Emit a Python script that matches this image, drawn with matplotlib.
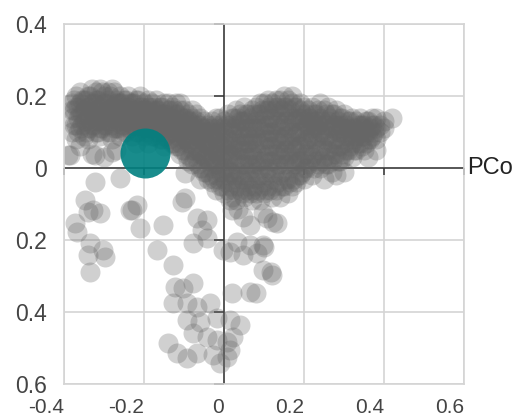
import matplotlib
matplotlib.use("Agg")
import matplotlib.pyplot as plt
from matplotlib.ticker import FixedLocator, FuncFormatter

plt.rcParams['font.family'] = ['Liberation Sans', 'DejaVu Sans']

# ---- data ----
x_ticks = [-0.4, -0.2, 0.0, 0.2, 0.4, 0.6]
y_ticks = [0.4, 0.2, 0.0, -0.2, -0.4, -0.6]
axis_title = "PCo1"

# dense band of samples, grouped by PCo1 value -> PCo2 values
band_columns = {
    -0.38: [0.18, 0.14, 0.10, 0.16],
    -0.37: [0.20, 0.12, 0.17, 0.08],
    -0.36: [0.21, 0.15, 0.11, 0.18, 0.06],
    -0.35: [0.19, 0.13, 0.16, 0.09],
    -0.34: [0.20, 0.14, 0.11, 0.17, 0.08],
    -0.33: [0.22, 0.18, 0.12, 0.15, 0.04],
    -0.32: [0.19, 0.13, 0.16, 0.10, 0.21],
    -0.31: [0.22, 0.17, 0.14, 0.09, 0.11],
    -0.30: [0.20, 0.15, 0.12, 0.18, 0.03],
    -0.29: [0.21, 0.16, 0.10, 0.13, 0.19],
    -0.28: [0.22, 0.14, 0.17, 0.08, 0.12, 0.044],
    -0.27: [0.19, 0.15, 0.11, 0.18, 0.05],
    -0.26: [0.20, 0.13, 0.16, 0.09, 0.18],
    -0.25: [0.17, 0.12, 0.19, 0.14, 0.10],
    -0.24: [0.20, 0.15, 0.11, 0.17, 0.13],
    -0.23: [0.18, 0.14, 0.09, 0.16, 0.12],
    -0.22: [0.19, 0.13, 0.16, 0.10, 0.07],
    -0.21: [0.20, 0.15, 0.12, 0.17],
    -0.20: [0.18, 0.13, 0.16, 0.09, 0.11],
    -0.19: [0.19, 0.14, 0.11, 0.17, 0.07],
    -0.18: [0.16, 0.12, 0.18, 0.09],
    -0.17: [0.19, 0.14, 0.10, 0.16, 0.12],
    -0.16: [0.17, 0.13, 0.08, 0.15, 0.11],
    -0.15: [0.18, 0.12, 0.15, 0.09, 0.06],
    -0.14: [0.16, 0.11, 0.13, 0.08, 0.18],
    -0.13: [0.17, 0.12, 0.14, 0.07, 0.10],
    -0.12: [0.18, 0.11, 0.15, 0.06, 0.13],
    -0.11: [0.16, 0.10, 0.13, 0.07, 0.18, 0.04],
    -0.10: [0.14, 0.09, 0.12, 0.05, 0.16],
    -0.09: [0.15, 0.10, 0.13, 0.07, 0.02],
    -0.08: [0.14, 0.08, 0.11, 0.05, 0.16, 0.01],
    -0.07: [0.13, 0.09, 0.11, 0.06, 0.03, 0.15],
    -0.06: [0.12, 0.08, 0.10, 0.04, 0.00, 0.14, -0.03],
    -0.05: [0.13, 0.07, 0.10, 0.03, -0.01, 0.05],
    -0.04: [0.12, 0.08, 0.05, 0.02, -0.03, 0.10],
    -0.03: [0.13, 0.09, 0.06, 0.03, 0.00, -0.04, 0.11],
    -0.02: [0.14, 0.08, 0.05, 0.01, -0.02, -0.06, 0.11],
    -0.01: [0.12, 0.09, 0.06, 0.03, -0.01, -0.05, 0.14],
    0.00: [0.13, 0.10, 0.07, 0.04, 0.00, -0.03, -0.07],
    0.01: [0.15, 0.11, 0.08, 0.05, 0.02, -0.02, -0.06],
    0.02: [0.14, 0.10, 0.06, 0.03, -0.01, -0.04, -0.08],
    0.03: [0.16, 0.12, 0.08, 0.05, 0.01, -0.03, -0.09],
    0.04: [0.15, 0.11, 0.07, 0.03, -0.02, -0.06, 0.13],
    0.05: [0.17, 0.13, 0.09, 0.05, 0.01, -0.04, -0.08],
    0.06: [0.15, 0.11, 0.07, 0.03, -0.01, -0.05, 0.09],
    0.07: [0.16, 0.12, 0.08, 0.04, 0.00, -0.06, -0.09],
    0.08: [0.17, 0.13, 0.09, 0.05, 0.01, -0.03, -0.07],
    0.09: [0.15, 0.11, 0.07, 0.02, -0.02, -0.09, 0.18],
    0.10: [0.18, 0.14, 0.10, 0.06, 0.02, -0.04, -0.07],
    0.11: [0.16, 0.12, 0.08, 0.04, 0.00, -0.05, 0.19],
    0.12: [0.18, 0.14, 0.10, 0.06, 0.02, -0.03, -0.08],
    0.13: [0.17, 0.12, 0.08, 0.04, 0.00, -0.06, 0.19],
    0.14: [0.19, 0.15, 0.11, 0.07, 0.03, -0.02, -0.08],
    0.15: [0.17, 0.13, 0.09, 0.05, 0.01, -0.05, 0.20],
    0.16: [0.19, 0.15, 0.11, 0.07, 0.03, -0.03, -0.07],
    0.17: [0.18, 0.14, 0.10, 0.06, 0.02, -0.05, 0.20],
    0.18: [0.17, 0.13, 0.09, 0.05, 0.01, -0.04],
    0.19: [0.18, 0.14, 0.10, 0.06, 0.02, -0.02, 0.16],
    0.20: [0.17, 0.13, 0.09, 0.04, 0.00, -0.03],
    0.21: [0.16, 0.12, 0.08, 0.05, 0.01, 0.14],
    0.22: [0.17, 0.13, 0.09, 0.03, -0.02, 0.11],
    0.23: [0.15, 0.11, 0.07, 0.02, 0.13],
    0.24: [0.18, 0.14, 0.10, 0.05, 0.00],
    0.25: [0.16, 0.12, 0.08, 0.03, -0.03],
    0.26: [0.17, 0.13, 0.09, 0.05, 0.01],
    0.27: [0.15, 0.11, 0.07, 0.02, -0.01],
    0.28: [0.16, 0.12, 0.08, 0.04, -0.02],
    0.29: [0.14, 0.10, 0.06, 0.02, 0.12],
    0.30: [0.15, 0.11, 0.07, 0.03, -0.01],
    0.31: [0.13, 0.09, 0.05, 0.11],
    0.32: [0.14, 0.10, 0.07, 0.03],
    0.33: [0.13, 0.09, 0.11, 0.05],
    0.34: [0.14, 0.10, 0.07, 0.12],
    0.35: [0.12, 0.09, 0.11, 0.05],
    0.36: [0.13, 0.10, 0.08, 0.03],
    0.37: [0.12, 0.09, 0.14],
    0.38: [0.14, 0.11, 0.05, 0.08],
    0.39: [0.12, 0.10],
    0.40: [0.13, 0.11],
    0.42: [0.14],
}

# further samples inside the dense band
band_columns_inner = {
    -0.375: [0.12, 0.16, 0.19],
    -0.365: [0.10, 0.14, 0.17],
    -0.355: [0.12, 0.15, 0.19],
    -0.345: [0.10, 0.13, 0.16, 0.19],
    -0.335: [0.11, 0.14, 0.17, 0.20],
    -0.325: [0.12, 0.15, 0.18],
    -0.315: [0.10, 0.13, 0.16, 0.19],
    -0.305: [0.11, 0.14, 0.17, 0.21],
    -0.295: [0.12, 0.15, 0.18],
    -0.285: [0.10, 0.13, 0.16, 0.20],
    -0.275: [0.11, 0.14, 0.17, 0.21],
    -0.265: [0.11, 0.15, 0.18],
    -0.255: [0.12, 0.15, 0.18],
    -0.245: [0.10, 0.13, 0.16, 0.19],
    -0.235: [0.11, 0.15, 0.18],
    -0.225: [0.12, 0.15, 0.18],
    -0.215: [0.10, 0.13, 0.16, 0.19],
    -0.205: [0.11, 0.14, 0.17],
    -0.195: [0.10, 0.13, 0.16],
    -0.185: [0.11, 0.14, 0.17],
    -0.175: [0.09, 0.13, 0.17],
    -0.165: [0.10, 0.14, 0.16],
    -0.155: [0.08, 0.11, 0.14, 0.17],
    -0.145: [0.09, 0.12, 0.15],
    -0.135: [0.08, 0.11, 0.14, 0.16],
    -0.125: [0.07, 0.10, 0.13, 0.16],
    -0.115: [0.06, 0.09, 0.12, 0.15],
    -0.105: [0.05, 0.08, 0.11, 0.14],
    -0.095: [0.04, 0.08, 0.11, 0.14],
    -0.085: [0.03, 0.07, 0.10, 0.13],
    -0.075: [0.02, 0.05, 0.08, 0.12],
    -0.065: [0.01, 0.05, 0.09, 0.12],
    -0.055: [0.00, 0.04, 0.08, 0.11],
    -0.045: [-0.01, 0.03, 0.07, 0.11],
    -0.035: [-0.02, 0.02, 0.06, 0.10],
    -0.025: [-0.03, 0.01, 0.04, 0.08, 0.12],
    -0.015: [-0.03, 0.01, 0.04, 0.07, 0.10],
    -0.005: [-0.05, -0.01, 0.02, 0.06, 0.11],
    0.005: [-0.04, 0.00, 0.03, 0.07, 0.12],
    0.015: [-0.05, -0.01, 0.04, 0.08, 0.12],
    0.025: [-0.06, -0.02, 0.02, 0.07, 0.11, 0.14],
    0.035: [-0.05, -0.01, 0.03, 0.06, 0.10, 0.14],
    0.045: [-0.07, -0.03, 0.01, 0.05, 0.09, 0.13],
    0.055: [-0.06, -0.02, 0.03, 0.07, 0.11, 0.15],
    0.065: [-0.07, -0.03, 0.01, 0.05, 0.10, 0.14],
    0.075: [-0.05, -0.01, 0.03, 0.07, 0.11, 0.15],
    0.085: [-0.06, -0.02, 0.02, 0.07, 0.11, 0.15],
    0.095: [-0.05, 0.00, 0.04, 0.08, 0.12, 0.16],
    0.105: [-0.06, -0.02, 0.03, 0.08, 0.12, 0.16],
    0.115: [-0.06, -0.01, 0.02, 0.06, 0.10, 0.14, 0.17],
    0.125: [-0.05, -0.01, 0.04, 0.08, 0.12, 0.16],
    0.135: [-0.04, 0.01, 0.05, 0.09, 0.13, 0.17],
    0.145: [-0.05, -0.01, 0.04, 0.08, 0.12, 0.16],
    0.155: [-0.03, 0.01, 0.05, 0.09, 0.13, 0.17],
    0.165: [-0.04, 0.00, 0.04, 0.08, 0.12, 0.16],
    0.175: [-0.03, 0.01, 0.05, 0.09, 0.13, 0.17],
    0.185: [-0.02, 0.02, 0.06, 0.10, 0.14],
    0.195: [-0.01, 0.03, 0.07, 0.11, 0.15],
    0.205: [0.00, 0.04, 0.08, 0.12, 0.15],
    0.215: [0.02, 0.06, 0.10, 0.14],
    0.225: [0.00, 0.04, 0.08, 0.12, 0.15],
    0.235: [0.01, 0.05, 0.09, 0.12, 0.16],
    0.245: [0.02, 0.06, 0.10, 0.13],
    0.255: [0.01, 0.05, 0.09, 0.12, 0.15],
    0.265: [0.03, 0.07, 0.11, 0.14],
    0.275: [0.04, 0.08, 0.12, 0.15],
    0.285: [0.02, 0.06, 0.10, 0.13],
    0.295: [0.04, 0.08, 0.11, 0.14],
    0.305: [0.05, 0.09, 0.12],
    0.315: [0.06, 0.10, 0.13],
    0.325: [0.05, 0.08, 0.11],
    0.335: [0.07, 0.10, 0.12],
    0.345: [0.06, 0.09, 0.12],
    0.355: [0.07, 0.10, 0.13],
    0.365: [0.08, 0.11],
    0.375: [0.10, 0.12],
}

# scattered samples below the band
sparse_x = [-0.39, -0.385, -0.3225, -0.3225, -0.26, -0.3475, -0.3275, -0.34, -0.31,
            -0.3725, -0.3675, -0.335, -0.34, -0.3025, -0.2975, -0.335, -0.23,
            -0.2175, -0.21, -0.1525, -0.105, -0.0975, -0.0975, -0.1675, -0.1275,
            -0.0675, -0.0425, -0.055, -0.0775, -0.0425, -0.1225, -0.1025, -0.0775,
            -0.0025, 0.015, 0.02, 0.0475, 0.065, 0.0325, 0.065, 0.0975, 0.0475,
            0.0825, 0.1075, 0.1325, 0.0975, 0.12, 0.02, 0.065, -0.1275, -0.0925,
            -0.0675, -0.035, -0.0925, -0.06, -0.0175, 0.015, 0.04, -0.0775,
            -0.0425, -0.14, -0.1175, -0.0925, -0.0675, -0.0175, 0.0075, 0.0225,
            -0.0275, 0.0075, 0.015, -0.01, 0.0975, 0.1225, 0.10, 0.1175, 0.08,
            0.015, 0.035, -0.235]
sparse_y = [0.035, 0.036, 0.036, -0.039, -0.028, -0.089, -0.117, -0.122, -0.125,
            -0.153, -0.178, -0.208, -0.242, -0.228, -0.247, -0.289, -0.117,
            -0.103, -0.167, -0.158, -0.094, -0.014, -0.083, -0.228, -0.269,
            -0.139, -0.144, -0.172, -0.208, -0.194, -0.331, -0.333, -0.319,
            -0.228, -0.233, -0.117, -0.136, -0.158, -0.206, -0.214, -0.214, -0.242,
            -0.236, -0.139, -0.153, -0.283, -0.297, -0.347, -0.344, -0.375, -0.375,
            -0.386, -0.375, -0.422, -0.428, -0.417, -0.422, -0.436, -0.458,
            -0.469, -0.486, -0.514, -0.528, -0.514, -0.478, -0.483, -0.469,
            -0.519, -0.525, -0.506, -0.542, -0.125, -0.150, -0.219, -0.289, -0.347,
            -0.090, -0.115, -0.117]

# highlighted sample
highlight_x = [-0.198]
highlight_y = [0.042]

# ---- assemble ----
grey_x = []
grey_y = []
for cols in (band_columns, band_columns_inner):
    for xv, ys in cols.items():
        for yv in ys:
            grey_x.append(xv)
            grey_y.append(yv)
grey_x += sparse_x
grey_y += sparse_y

W, H, DPI = 512, 419, 100
fig = plt.figure(figsize=(W / DPI, H / DPI), dpi=DPI)
L, T, R, B = 64, 24, 464, 384
ax = fig.add_axes([L / W, 1 - B / H, (R - L) / W, (B - T) / H])

xmin, xmax = x_ticks[0], x_ticks[-1]
ymin, ymax = y_ticks[-1], y_ticks[0]
ax.set_xlim(xmin, xmax)
ax.set_ylim(ymin, ymax)

grid_c = '#d4d4d4'
ax.xaxis.set_major_locator(FixedLocator(x_ticks))
ax.yaxis.set_major_locator(FixedLocator(y_ticks))
ax.xaxis.set_major_formatter(FuncFormatter(lambda v, p: '0' if abs(v) < 1e-9 else f'{v:.1f}'))
ax.yaxis.set_major_formatter(FuncFormatter(lambda v, p: '0' if abs(v) < 1e-9 else f'{abs(v):.1f}'))
ax.tick_params(axis='both', length=0, labelcolor='#444444')
ax.tick_params(axis='y', pad=12, labelsize=16.5)
ax.tick_params(axis='x', pad=10, labelsize=15)
for lbl in ax.get_xticklabels():
    lbl.set_horizontalalignment('right')
ax.grid(True, color=grid_c, linewidth=1.2, zorder=0)
ax.set_axisbelow(True)
for s in ax.spines.values():
    s.set_color(grid_c)
    s.set_linewidth(1.2)

# central axis lines with tick marks
axis_c = '#333333'
ax.axhline(0, color=axis_c, linewidth=1.1, zorder=1.5)
ax.axvline(0, color=axis_c, linewidth=1.1, zorder=1.5)
px_x = (xmax - xmin) / (R - L)
px_y = (ymax - ymin) / (B - T)
for yv in y_ticks:
    ax.plot([-10 * px_x, 0], [yv, yv], color=axis_c, linewidth=1.1, zorder=1.5,
            solid_capstyle='butt', clip_on=False)
for xv in x_ticks:
    ax.plot([xv, xv], [0, -7 * px_y], color=axis_c, linewidth=1.1, zorder=1.5,
            solid_capstyle='butt', clip_on=False)

# points
r_grey = 10 * 72 / DPI
r_hi = 25 * 72 / DPI
ax.scatter(grey_x, grey_y, s=(2 * r_grey) ** 2, color='#666666', alpha=0.3,
           linewidths=0, zorder=2)
ax.scatter(highlight_x, highlight_y, s=(2 * r_hi) ** 2, color='#008080', alpha=0.9,
           linewidths=0, zorder=3)

ax.annotate(axis_title, xy=(xmax, 0), xytext=(2.5, 0), textcoords='offset points',
            fontsize=17, color='#222222', ha='left', va='center',
            annotation_clip=False)

fig.savefig('out.png', dpi=DPI)
